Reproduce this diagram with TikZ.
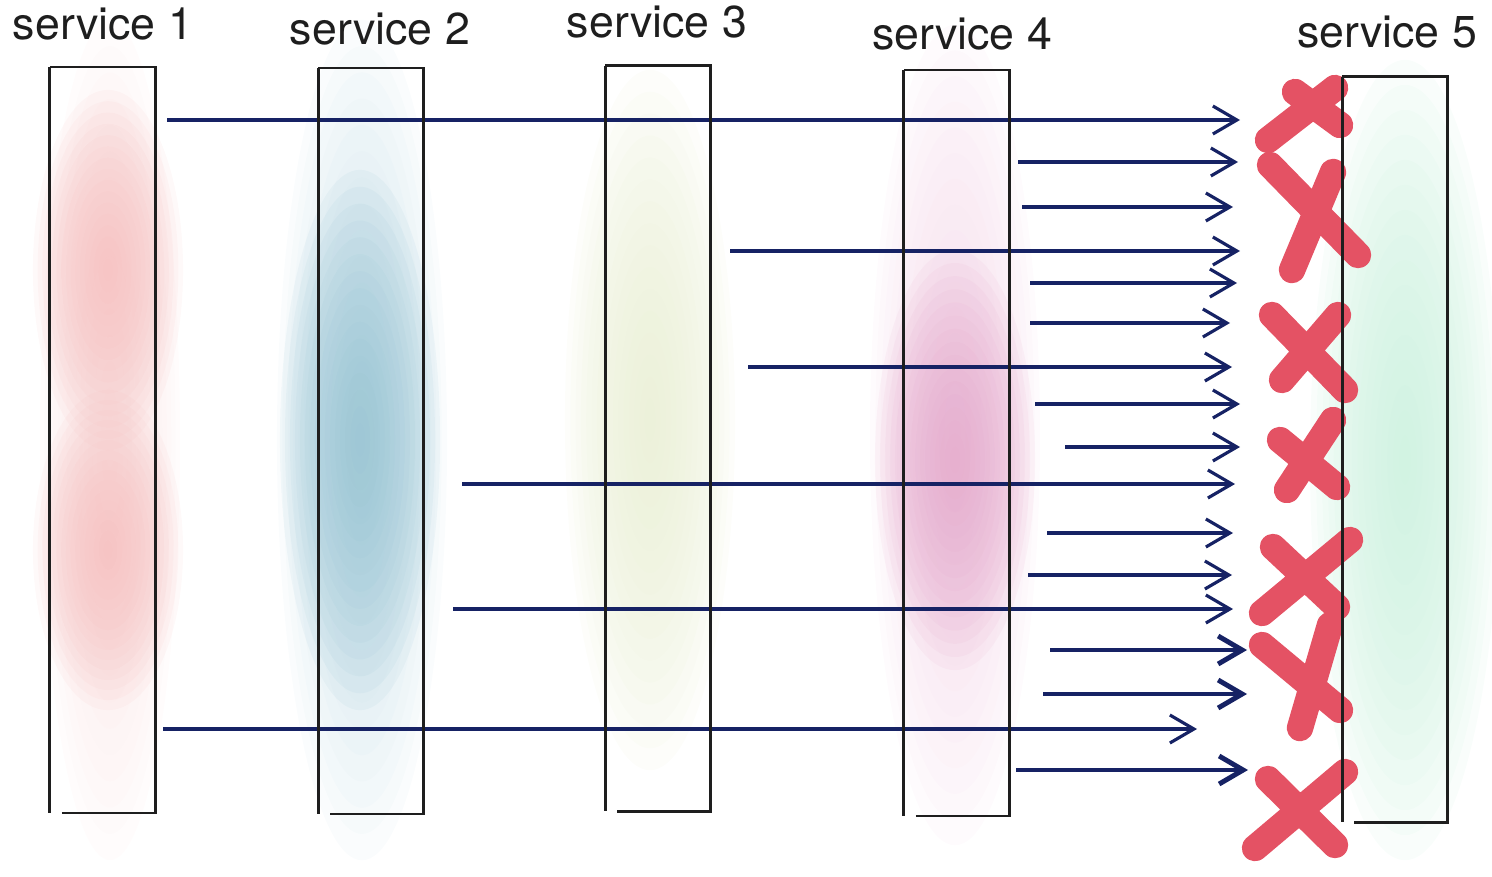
\documentclass[tikz,border=0pt]{standalone}
\usepackage{fontspec}
\setmainfont{TeX Gyre Heros}
\usetikzlibrary{arrows.meta}
\definecolor{navy}{RGB}{22,34,100}
\definecolor{xred}{RGB}{228,82,100}
\definecolor{ink}{RGB}{30,30,30}
\definecolor{pinkone}{RGB}{246,192,192}
\definecolor{bluetwo}{RGB}{150,196,212}
\definecolor{olivethree}{RGB}{232,238,210}
\definecolor{pinkfour}{RGB}{230,168,204}
\definecolor{greenfive}{RGB}{200,240,220}

% soft watercolour patch: colour, x, y, x radius, y radius (cm)
\newcommand{\wash}[5]{%
    \foreach \k in {1,...,16} {
        \fill[#1, opacity=0.1] (#2,#3) ellipse ({#4cm*\k/16} and {#5cm*\k/16});
    }%
}

\tikzset{
    svcbox/.style={minimum width=1.04cm, minimum height=7.44cm, inner sep=0pt},
    svclabel/.style={anchor=base, text=ink, inner sep=0pt, font=\fontsize{12.7}{15}\selectfont},
    edge/.style={ink, line width=0.8pt},
    flow/.style={-{Straight Barb[length=2.4mm,width=2.8mm]}, navy, line width=0.9pt},
    flowbold/.style={flow, line width=1.4pt},
    cross/.style={xred, line width=7.5pt, line cap=round}
}

\begin{document}
\begin{tikzpicture}[x=0.01cm, y=-0.01cm]

    \useasboundingbox (0,0) rectangle (1492,876);

    % Colour washes
    \wash{pinkone!40}{110}{440}{0.7}{4.2}
    \wash{pinkone}{108}{270}{0.75}{1.8}
    \wash{pinkone}{108}{550}{0.75}{1.6}
    \wash{bluetwo!45}{362}{440}{0.85}{4.2}
    \wash{bluetwo}{360}{440}{0.8}{2.7}
    \wash{olivethree}{650}{420}{0.85}{3.5}
    \wash{pinkfour!40}{955}{435}{0.85}{4.1}
    \wash{pinkfour}{955}{460}{0.8}{2.1}
    \wash{greenfive}{1405}{460}{0.95}{4.0}

    % Services
    \node[svcbox] (s1) at (102.5,440) {};
    \node[svcbox] (s2) at (371,441) {};
    \node[svcbox] (s3) at (658,438.5) {};
    \node[svcbox] (s4) at (956.5,443) {};
    \node[svcbox] (s5) at (1395,449.5) {};

    \node[svclabel] (t1) at (103,40) {service 1};
    \node[svclabel] (t2) at (380,45) {service 2};
    \node[svclabel] (t3) at (657,38) {service 3};
    \node[svclabel] (t4) at (962,50) {service 4};
    \node[svclabel] (t5) at (1387,48) {service 5};

    % Calls
    \foreach \y/\xa/\xb in {120/167/1240, 162/1018/1238, 207/1022/1233, 251/730/1240,
        283/1030/1237, 323/1030/1230, 367/748/1232, 404/1035/1240, 447/1065/1240,
        484/462/1235, 533/1047/1233, 575/1028/1232, 609/453/1233, 729/163/1197} {
        \draw[flow] (\xa,\y) -- (\xb,\y);
    }
    \foreach \y/\xa/\xb in {650/1050/1247, 694/1043/1247, 770/1016/1248} {
        \draw[flowbold] (\xa,\y) -- (\xb,\y);
    }

    % Failures
    \draw[cross] (1268,140) -- (1335,88) (1295,92) -- (1340,125);
    \draw[cross] (1270,165) -- (1358,255) (1333,172) -- (1292,270);
    \draw[cross] (1272,315) -- (1345,390) (1338,315) -- (1282,380);
    \draw[cross] (1280,440) -- (1337,487) (1333,420) -- (1287,490);
    \draw[cross] (1273,547) -- (1337,607) (1350,540) -- (1262,613);
    \draw[cross] (1262,645) -- (1340,710) (1330,625) -- (1300,728);
    \draw[cross] (1268,779) -- (1335,845) (1345,772) -- (1255,848);

    % Outlines
    \foreach \n in {1,...,5} {
        \draw[edge] (s\n.north west) -- (s\n.south west);
        \draw[edge] ([xshift=0.12cm]s\n.south west) -- (s\n.south east) -- (s\n.north east) -- (s\n.north west);
    }

\end{tikzpicture}
\end{document}
